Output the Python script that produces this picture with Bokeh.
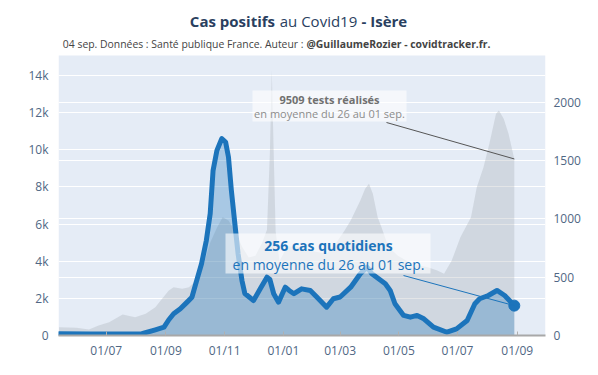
import pandas as pd
from bokeh.plotting import figure
from bokeh.models import (Range1d, LinearAxis, FixedTicker, Grid, Label, BoxAnnotation,
                          Arrow, ColumnDataSource, MonthsTicker, DatetimeTickFormatter)
from bokeh.embed import file_html
from bokeh.resources import INLINE

FONT = "Open Sans"

# ---------------- data ----------------
test_dates = ["2020-05-13", "2020-05-31", "2020-06-13", "2020-06-23", "2020-07-04", "2020-07-18",
              "2020-07-31", "2020-08-11", "2020-08-21", "2020-08-28", "2020-09-04", "2020-09-09",
              "2020-09-18", "2020-09-25", "2020-10-03", "2020-10-10", "2020-10-17", "2020-10-24",
              "2020-10-30", "2020-11-05", "2020-11-12", "2020-11-19", "2020-11-26", "2020-12-03",
              "2020-12-10", "2020-12-15", "2020-12-18", "2020-12-20", "2020-12-22", "2020-12-24",
              "2020-12-28", "2021-01-05", "2021-01-15", "2021-01-25", "2021-02-05", "2021-02-15",
              "2021-02-25", "2021-03-05", "2021-03-12", "2021-03-22", "2021-03-27", "2021-03-31",
              "2021-04-04", "2021-04-09", "2021-04-13", "2021-04-20", "2021-04-30", "2021-05-10",
              "2021-05-20", "2021-05-31", "2021-06-10", "2021-06-17", "2021-06-25", "2021-07-04",
              "2021-07-15", "2021-07-21", "2021-07-28", "2021-08-03", "2021-08-10", "2021-08-13",
              "2021-08-18", "2021-08-23", "2021-08-29"]
test_values = [450, 415, 323, 538, 716, 1131, 985, 1168, 1524, 1976, 2423, 2600, 2514, 2600,
               3000, 3800, 5000, 5800, 6370, 6200, 5600, 4800, 4200, 4300, 5000, 5700, 9800,
               14270, 9800, 5600, 4000, 4800, 4800, 4600, 4500, 4400, 5000, 5600, 6190, 7270,
               7900, 8170, 7630, 6370, 5830, 4800, 4300, 4000, 3800, 3680, 3500, 3320, 4040,
               5290, 6370, 7990, 9060, 10320, 11940, 12120, 11670, 10860, 9509]

case_dates = ["2020-05-13", "2020-06-15", "2020-07-15", "2020-08-07", "2020-08-21", "2020-08-30",
              "2020-09-04", "2020-09-09", "2020-09-16", "2020-09-23", "2020-09-28", "2020-10-03",
              "2020-10-08", "2020-10-13", "2020-10-17", "2020-10-20", "2020-10-24", "2020-10-29",
              "2020-11-02", "2020-11-05", "2020-11-08", "2020-11-12", "2020-11-15", "2020-11-19",
              "2020-11-22", "2020-12-01", "2020-12-08", "2020-12-15", "2020-12-18", "2020-12-22",
              "2020-12-27", "2021-01-03", "2021-01-07", "2021-01-12", "2021-01-20", "2021-01-29",
              "2021-02-05", "2021-02-15", "2021-02-22", "2021-03-01", "2021-03-12", "2021-03-22",
              "2021-03-29", "2021-04-03", "2021-04-10", "2021-04-17", "2021-04-22", "2021-04-27",
              "2021-05-06", "2021-05-13", "2021-05-20", "2021-05-27", "2021-06-06", "2021-06-20",
              "2021-06-30", "2021-07-11", "2021-07-19", "2021-07-24", "2021-08-02", "2021-08-11",
              "2021-08-19", "2021-08-29"]
case_values = [15, 12, 12, 15, 49, 71, 135, 186, 229, 286, 328, 472, 615, 815, 1044, 1415, 1587,
               1687, 1658, 1529, 1244, 929, 700, 472, 360, 300, 400, 500, 480, 358, 286, 414, 386,
               358, 400, 386, 328, 243, 315, 330, 414, 529, 586, 529, 486, 443, 386, 272, 172, 157,
               172, 143, 71, 28, 57, 129, 272, 315, 343, 386, 343, 256]

left_ticks = [0, 2000, 4000, 6000, 8000, 10000, 12000, 14000]
left_tick_labels = ["0", "2k", "4k", "6k", "8k", "10k", "12k", "14k"]
right_ticks = [0, 500, 1000, 1500, 2000]
right_tick_labels = ["0", "500", "1000", "1500", "2000"]
x_tick_months = [0, 2, 4, 6, 8, 10]

title_parts = ["Cas positifs", "au Covid19", "- Isère"]
subtitle_parts = ["04 sep. Données : Santé publique France. Auteur :",
                  "@GuillaumeRozier - covidtracker.fr."]
period_text = "en moyenne du 26 au 01 sep."

# axis maxima of the plotting area
TESTS_MAX = 15080
CASES_MAX = 2400

# ---------------- styling / layout ----------------
BG = "#E5ECF6"
BLUE = "#1C74BB"
TXT = "#2A3F5F"
TICK = "#506784"

PLOT_H = 280          # height of the data area
HEAD_H = 50           # header band (title) kept inside the frame, above the data area
FRAME_H = PLOT_H + HEAD_H
scale = FRAME_H / PLOT_H

tests_src = ColumnDataSource(dict(date=pd.to_datetime(test_dates), v=test_values))
cases_src = ColumnDataSource(dict(date=pd.to_datetime(case_dates), v=case_values))

p = figure(x_axis_type="datetime", frame_width=487, frame_height=FRAME_H,
           x_range=Range1d(pd.Timestamp("2020-05-12 09:00"), pd.Timestamp("2021-09-30 10:00")),
           y_range=Range1d(0, TESTS_MAX * scale),
           output_backend="svg", toolbar_location=None,
           min_border_left=58, min_border_right=45, min_border_top=5, min_border_bottom=32,
           background_fill_color="white", border_fill_color="white", outline_line_color=None)
p.extra_y_ranges = {"cases": Range1d(0, CASES_MAX * scale)}

# plotting-area background
p.add_layout(BoxAnnotation(bottom=0, top=TESTS_MAX, fill_color=BG, fill_alpha=1.0,
                           line_color=None, level="image"))

# left axis
ya = p.yaxis[0]
ya.ticker = FixedTicker(ticks=left_ticks)
ya.major_label_overrides = {t: l for t, l in zip(left_ticks, left_tick_labels)}
ya.axis_line_color = None
ya.major_tick_line_color = None
ya.minor_tick_line_color = None
ya.major_label_standoff = 4
ya.major_label_text_font = FONT
ya.major_label_text_font_size = "12px"
ya.major_label_text_color = TICK
p.ygrid[0].grid_line_color = "white"
p.ygrid[0].grid_line_width = 1
p.xgrid.visible = False

# right axis
ra = LinearAxis(y_range_name="cases", ticker=FixedTicker(ticks=right_ticks),
                major_label_overrides={t: l for t, l in zip(right_ticks, right_tick_labels)},
                axis_line_color=None, major_tick_line_color=None, minor_tick_line_color=None,
                major_label_standoff=2, major_label_text_font=FONT,
                major_label_text_font_size="12px", major_label_text_color=TICK)
p.add_layout(ra, "right")
p.add_layout(Grid(dimension=1, axis=ra, y_range_name="cases",
                  grid_line_color="white", grid_line_width=1))

# x axis
xa = p.xaxis[0]
xa.ticker = MonthsTicker(months=x_tick_months)
xa.formatter = DatetimeTickFormatter(months="%d/%m", days="%d/%m")
xa.axis_line_color = "#A8A8A8"
xa.axis_line_width = 2
xa.major_tick_line_color = "#B0B0B0"
xa.major_tick_in = 4
xa.major_tick_out = 0
xa.minor_tick_line_color = None
xa.major_label_standoff = 6
xa.major_label_text_font = FONT
xa.major_label_text_font_size = "12px"
xa.major_label_text_color = TICK

# series
p.varea(x="date", y1=0, y2="v", source=tests_src,
        fill_color="#9CA1AA", fill_alpha=0.28)
p.varea(x="date", y1=0, y2="v", source=cases_src, y_range_name="cases",
        fill_color=BLUE, fill_alpha=0.3)
p.line(x="date", y="v", source=cases_src, y_range_name="cases",
       line_color=BLUE, line_width=5, line_join="round", line_cap="round")
p.scatter(x=[pd.Timestamp(case_dates[-1])], y=[case_values[-1]], y_range_name="cases",
          size=11, fill_color=BLUE, line_color=BLUE)

# annotations (screen units relative to the frame's lower-left corner)
def ms(d):
    return pd.Timestamp(d).value / 1e6

p.add_layout(Arrow(end=None, x_start=328, y_start=213, start_units="screen",
                   x_end=ms(test_dates[-1]), y_end=test_values[-1], end_units="data",
                   line_color="#555555", line_width=1))
p.add_layout(Arrow(end=None, x_start=345, y_start=60, start_units="screen",
                   x_end=ms(case_dates[-1]), y_end=case_values[-1], end_units="data",
                   y_range_name="cases", line_color=BLUE, line_width=1))

p.add_layout(BoxAnnotation(left=194, right=348, bottom=214, top=245,
                           left_units="screen", right_units="screen",
                           bottom_units="screen", top_units="screen",
                           fill_color="white", fill_alpha=0.6, line_color=None))
p.add_layout(BoxAnnotation(left=167, right=372, bottom=62, top=102,
                           left_units="screen", right_units="screen",
                           bottom_units="screen", top_units="screen",
                           fill_color="white", fill_alpha=0.6, line_color=None))

def lab(x, y, text, size, color, bold=False, align="center"):
    p.add_layout(Label(x=x, y=y, x_units="screen", y_units="screen", text=text,
                       text_font=FONT, text_font_size=size, text_color=color,
                       text_font_style="bold" if bold else "normal",
                       text_align=align, text_baseline="middle"))

lab(271, 236, f"{test_values[-1]} tests réalisés", "11px", "#707070", bold=True)
lab(271, 222, period_text, "11px", "#8C8C8C")
lab(270, 90, f"{case_values[-1]} cas quotidiens", "14px", BLUE, bold=True)
lab(270, 71, period_text, "14px", BLUE)

# title & subtitle
lab(216.5, 315, title_parts[0], "15px", TXT, bold=True, align="right")
lab(260, 315, title_parts[1], "15px", TXT, align="center")
lab(303, 315, title_parts[2], "15px", TXT, bold=True, align="left")
lab(245, 292, subtitle_parts[0], "10.4px", "#444444", align="right")
lab(248, 292, subtitle_parts[1], "10.4px", "#444444", bold=True, align="left")

open("out.html", "w").write(file_html(p, INLINE))
